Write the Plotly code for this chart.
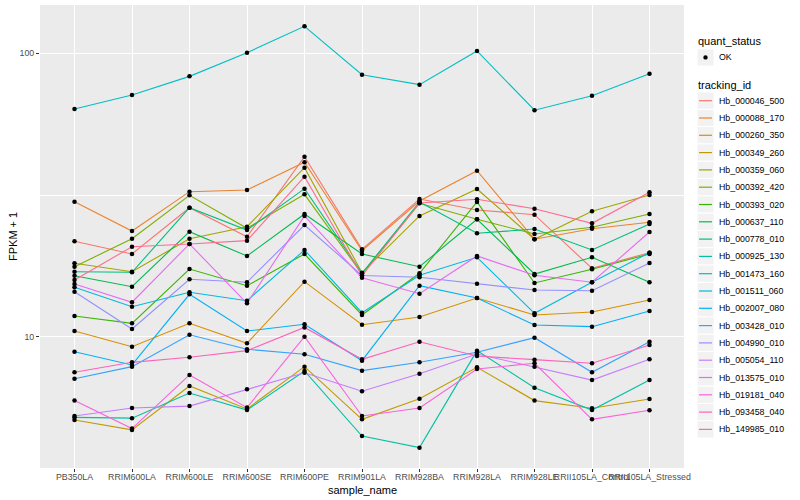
import plotly.graph_objects as go

# ---------------- data ----------------
sample_name = ["PB350LA", "RRIM600LA", "RRIM600LE", "RRIM600SE", "RRIM600PE", "RRIM901LA",
               "RRIM928BA", "RRIM928LA", "RRIM928LE", "RRII105LA_Control", "RRII105LA_Stressed"]

tracking_id = ["Hb_000046_500", "Hb_000088_170", "Hb_000260_350", "Hb_000349_260", "Hb_000359_060",
               "Hb_000392_420", "Hb_000393_020", "Hb_000637_110", "Hb_000778_010", "Hb_000925_130",
               "Hb_001473_160", "Hb_001511_060", "Hb_002007_080", "Hb_003428_010", "Hb_004990_010",
               "Hb_005054_110", "Hb_013575_010", "Hb_019181_040", "Hb_093458_040", "Hb_149985_010"]

hue_colors = ["#F8766D", "#EA8331", "#D89000", "#C09B00", "#A3A500", "#7CAE00", "#39B600", "#00BB4E",
              "#00BF7D", "#00C1A3", "#00BFC4", "#00BAE0", "#00B0F6", "#35A2FF", "#9590FF", "#C77CFF",
              "#E76BF3", "#FA62DB", "#FF62BC", "#FF6C91"]

# FPKM + 1 per sample (order of sample_name)
Hb_000046_500 = [21.71, 19.58, 28.52, 22.53, 43.17, 20.34, 30.61, 28.00, 26.95, 17.43, 19.79]
Hb_000088_170 = [29.95, 23.60, 32.49, 32.94, 41.25, 20.11, 30.12, 38.53, 22.07, 24.05, 25.33]
Hb_000260_350 = [10.47, 9.22, 11.15, 9.48, 15.64, 11.02, 11.73, 13.69, 11.93, 12.22, 13.48]
Hb_000349_260 = [5.08, 4.69, 6.70, 5.56, 7.84, 5.11, 6.04, 7.80, 5.95, 5.59, 6.03]
Hb_000359_060 = [18.16, 16.96, 22.17, 24.44, 39.48, 16.82, 26.67, 33.20, 22.07, 27.70, 31.62]
Hb_000392_420 = [17.66, 22.17, 31.54, 24.13, 31.80, 16.64, 29.56, 25.96, 23.04, 24.32, 27.10]
Hb_000393_020 = [11.83, 11.15, 17.33, 15.13, 19.58, 11.93, 16.74, 29.88, 15.47, 17.29, 19.58]
Hb_000637_110 = [16.41, 15.01, 23.47, 19.27, 27.10, 19.58, 17.66, 25.96, 16.64, 19.06, 15.56]
Hb_000778_010 = [16.96, 16.88, 28.52, 23.79, 33.29, 16.74, 29.88, 23.17, 23.99, 20.23, 24.98]
Hb_000925_130 = [5.19, 5.16, 6.33, 5.51, 7.57, 4.46, 4.06, 8.93, 6.61, 5.51, 7.03]
Hb_001473_160 = [63.6, 71.3, 82.9, 100.5, 124.5, 84.0, 77.5, 101.9, 63.0, 70.8, 84.7]
Hb_001511_060 = [14.94, 12.76, 14.35, 13.40, 20.23, 12.15, 16.47, 19.06, 12.09, 15.56, 19.79]
Hb_002007_080 = [8.85, 7.95, 14.11, 10.47, 11.06, 8.23, 15.13, 13.69, 11.00, 10.85, 12.32]
Hb_003428_010 = [7.11, 7.84, 10.16, 9.03, 8.67, 7.59, 8.12, 8.81, 9.92, 7.49, 9.60]
Hb_004990_010 = [14.41, 10.65, 15.94, 15.56, 24.78, 16.44, 16.20, 15.38, 14.61, 14.53, 18.20]
Hb_005054_110 = [5.25, 5.60, 5.69, 6.52, 7.46, 6.42, 7.40, 8.69, 7.84, 7.03, 8.32]
Hb_013575_010 = [15.35, 13.23, 21.24, 13.12, 26.67, 16.15, 14.18, 19.27, 16.47, 15.56, 23.41]
Hb_019181_040 = [5.95, 4.74, 7.33, 5.62, 10.00, 5.25, 5.60, 7.69, 8.06, 5.11, 5.50]
Hb_093458_040 = [7.49, 8.12, 8.46, 8.93, 10.78, 8.32, 9.60, 8.55, 8.30, 8.06, 9.35]
Hb_149985_010 = [15.85, 20.78, 21.24, 21.82, 36.70, 16.41, 29.63, 30.53, 28.29, 25.12, 32.33]

series_values = [Hb_000046_500, Hb_000088_170, Hb_000260_350, Hb_000349_260, Hb_000359_060,
                 Hb_000392_420, Hb_000393_020, Hb_000637_110, Hb_000778_010, Hb_000925_130,
                 Hb_001473_160, Hb_001511_060, Hb_002007_080, Hb_003428_010, Hb_004990_010,
                 Hb_005054_110, Hb_013575_010, Hb_019181_040, Hb_093458_040, Hb_149985_010]

y_tick_vals = [10, 100]
y_tick_text = ["10", "100"]

# ---------------- figure ----------------
FONT = "Liberation Sans"
fig = go.Figure()

for name, col, vals in zip(tracking_id, hue_colors, series_values):
    fig.add_trace(go.Scatter(x=sample_name, y=vals, mode="lines", name=name,
                             line=dict(color=col, width=1.1), showlegend=False))
for name, vals in zip(tracking_id, series_values):
    fig.add_trace(go.Scatter(x=sample_name, y=vals, mode="markers", name=name,
                             marker=dict(color="black", size=4.5), showlegend=False))

# plot area in pixels
L, T, W, H = 40, 5, 644, 463
def px(x):
    return (x - L) / W
def py(y):
    return (T + H - y) / H

fig.update_layout(
    width=800, height=500,
    margin=dict(l=L, r=800 - L - W, t=T, b=500 - T - H),
    paper_bgcolor="white", plot_bgcolor="#EBEBEB",
    font=dict(family=FONT, color="black"),
    showlegend=False,
)
fig.update_xaxes(
    type="category", range=[-0.6, len(sample_name) - 0.4],
    showgrid=True, gridcolor="white", gridwidth=1.1,
    ticks="outside", ticklen=3, tickcolor="#333333", tickwidth=1,
    tickangle=0, tickfont=dict(size=8.8, color="#4D4D4D", family=FONT),
    ticklabelstandoff=-3,
    zeroline=False, showline=False,
)
fig.update_yaxes(
    type="log", range=[0.5367, 2.1704],
    tickvals=y_tick_vals, ticktext=y_tick_text,
    showgrid=True, gridcolor="white", gridwidth=1.1,
    minor=dict(tickvals=[10 ** 1.5], showgrid=True, gridcolor="white", gridwidth=0.5, ticklen=0),
    ticks="outside", ticklen=3, tickcolor="#333333", tickwidth=1,
    tickfont=dict(size=8.8, color="#4D4D4D", family=FONT),
    zeroline=False, showline=False,
)

annotations = []
shapes = []

# axis titles
annotations.append(dict(text="sample_name", x=px(362), y=py(489.5), xref="paper", yref="paper",
                        showarrow=False, xanchor="center", yanchor="middle",
                        font=dict(size=11, color="black", family=FONT)))
annotations.append(dict(text="FPKM + 1", x=px(13), y=py(236), xref="paper", yref="paper",
                        showarrow=False, xanchor="center", yanchor="middle", textangle=-90,
                        font=dict(size=11, color="black", family=FONT)))

# legend: quant_status
KX0, KX1 = 697, 714
annotations.append(dict(text="quant_status", x=px(696), y=py(40.7), xref="paper", yref="paper",
                        showarrow=False, xanchor="left", yanchor="middle",
                        font=dict(size=11, color="black", family=FONT)))
ok_y = 57.4
shapes.append(dict(type="rect", xref="paper", yref="paper", x0=px(KX0), x1=px(KX1),
                   y0=py(ok_y + 8.6), y1=py(ok_y - 8.6), fillcolor="#F2F2F2",
                   line=dict(color="white", width=1), layer="above"))
shapes.append(dict(type="circle", xref="paper", yref="paper", x0=px(703.3), x1=px(707.7),
                   y0=py(ok_y + 2.2), y1=py(ok_y - 2.2), fillcolor="black",
                   line=dict(color="black", width=0), layer="above"))
annotations.append(dict(text="OK", x=px(717), y=py(ok_y), xref="paper", yref="paper",
                        showarrow=False, xanchor="left", yanchor="middle",
                        font=dict(size=8.8, color="black", family=FONT)))

# legend: tracking_id
annotations.append(dict(text="tracking_id", x=px(696), y=py(85), xref="paper", yref="paper",
                        showarrow=False, xanchor="left", yanchor="middle",
                        font=dict(size=11, color="black", family=FONT)))
step = 17.3
for i, (name, col) in enumerate(zip(tracking_id, hue_colors)):
    cy = 100.7 + i * step
    shapes.append(dict(type="rect", xref="paper", yref="paper", x0=px(KX0), x1=px(KX1),
                       y0=py(cy + step / 2), y1=py(cy - step / 2), fillcolor="#F2F2F2",
                       line=dict(color="white", width=1), layer="above"))
    shapes.append(dict(type="line", xref="paper", yref="paper", x0=px(699), x1=px(712),
                       y0=py(cy), y1=py(cy), line=dict(color=col, width=1.2), layer="above"))
    annotations.append(dict(text=name, x=px(717), y=py(cy), xref="paper", yref="paper",
                            showarrow=False, xanchor="left", yanchor="middle",
                            font=dict(size=8.8, color="black", family=FONT)))

fig.update_layout(annotations=annotations, shapes=shapes)
fig.write_html("out.html", config={"displayModeBar": False},
               post_script="document.body.style.margin='0px';")
